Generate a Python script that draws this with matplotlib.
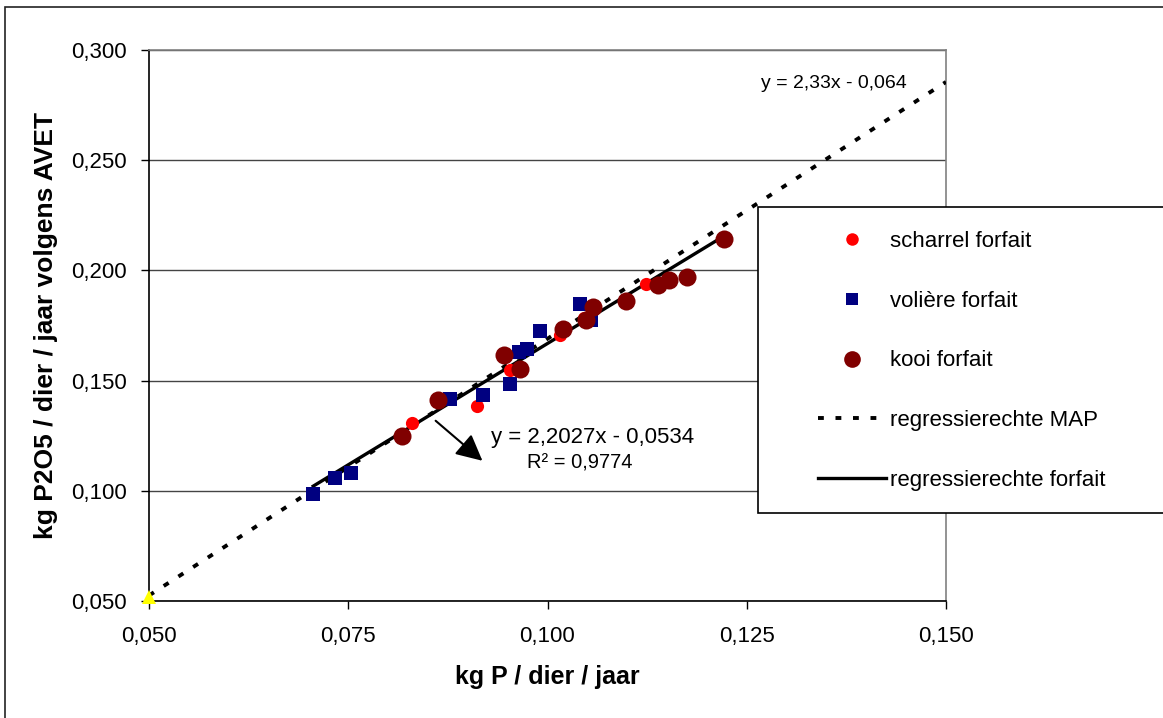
import matplotlib
matplotlib.use("Agg")
import matplotlib.pyplot as plt
from matplotlib.lines import Line2D
from matplotlib.patches import Rectangle
from matplotlib.ticker import FuncFormatter, MultipleLocator

plt.rcParams["font.family"] = ["Liberation Sans", "DejaVu Sans"]

# data
scharrel_x = [0.0830, 0.0912, 0.0953, 0.1016, 0.1046, 0.1123]
scharrel_y = [0.1308, 0.1386, 0.1549, 0.1709, 0.1782, 0.1940]

voliere_x = [0.0706, 0.0734, 0.0754, 0.0878, 0.0919, 0.0953, 0.0964, 0.0974, 0.0991, 0.1041, 0.1054]
voliere_y = [0.0986, 0.1060, 0.1083, 0.1417, 0.1436, 0.1485, 0.1629, 0.1644, 0.1724, 0.1849, 0.1776]

kooi_x = [0.0817, 0.0862, 0.0946, 0.0966, 0.1020, 0.1048, 0.1057, 0.1098, 0.1139, 0.1152, 0.1175, 0.1221]
kooi_y = [0.1250, 0.1412, 0.1617, 0.1553, 0.1735, 0.1773, 0.1836, 0.1860, 0.1936, 0.1958, 0.1970, 0.2141]

map_x = [0.050, 0.150]
map_y = [0.0525, 0.2855]

forfait_x = [0.0706, 0.1221]
forfait_y = [0.1021, 0.2155]

origin_x = [0.050]
origin_y = [0.052]

W, H = 1163, 718
fig = plt.figure(figsize=(W / 100, H / 100), dpi=100)
ax = fig.add_axes([149 / W, 1 - 601 / H, 797 / W, 551 / H])

# outer frame of the chart object
fig.patches.append(Rectangle((4.5 / W, -0.05), 1.1, 1.05 - 6.5 / H, transform=fig.transFigure,
                             fill=False, edgecolor="#222222", linewidth=1.2))

ax.plot(map_x, map_y, color="black", linewidth=2.8, linestyle=(0, (1.5, 3.0)), zorder=3)
ax.plot(forfait_x, forfait_y, color="black", linewidth=2.4, zorder=4)
ax.plot(scharrel_x, scharrel_y, "o", color="#FF0000", markersize=9.5, markeredgewidth=0, zorder=5)
ax.plot(voliere_x, voliere_y, "s", color="#000080", markersize=9.5, markeredgewidth=0, zorder=5)
ax.plot(kooi_x, kooi_y, "o", color="#800000", markersize=13, markeredgewidth=0, zorder=5)
ax.plot(origin_x, origin_y, "^", color="#FFFF00", markersize=10, markeredgewidth=0, zorder=6, clip_on=False)

ax.set_xlim(0.05, 0.15)
ax.set_ylim(0.05, 0.30)
ax.xaxis.set_major_locator(MultipleLocator(0.025))
ax.yaxis.set_major_locator(MultipleLocator(0.05))
fmt = FuncFormatter(lambda v, p: f"{v:.3f}".replace(".", ","))
ax.xaxis.set_major_formatter(fmt)
ax.yaxis.set_major_formatter(fmt)
ax.tick_params(direction="out", length=6, width=1, labelsize=16, color="black")
ax.tick_params(axis="y", pad=10)
ax.tick_params(axis="x", pad=12)

ax.grid(axis="y", color="#444444", linewidth=1)
ax.set_axisbelow(True)
for side in ["left", "bottom"]:
    ax.spines[side].set_color("black")
    ax.spines[side].set_linewidth(1.2)
for side in ["top", "right"]:
    ax.spines[side].set_color("#808080")
    ax.spines[side].set_linewidth(1.2)

ax.set_xlabel("kg P / dier / jaar", fontsize=18, fontweight="bold", va="center")
ax.set_ylabel("kg P2O5 / dier / jaar volgens AVET", fontsize=19, fontweight="bold", va="center")
ax.xaxis.set_label_coords((547 - 149) / 797, (601 - 677) / 551)
ax.yaxis.set_label_coords((46 - 149) / 797, 0.5)

ax.text(0.1268, 0.2846, "y = 2,33x - 0,064", fontsize=14, ha="left", va="center")
ax.text(0.1056, 0.1244, "y = 2,2027x - 0,0534", fontsize=16, ha="center", va="center")
ax.text(0.1041, 0.1125, "R² = 0,9774", fontsize=14.5, ha="center", va="center")
ax.annotate("", xy=(0.0921, 0.1128), xytext=(0.0857, 0.1326),
            arrowprops=dict(arrowstyle="-|>", color="black", lw=1.5, mutation_scale=40))

# legend box running off the right edge
fig.patches.append(Rectangle((758 / W, 1 - 513 / H), 1.0, 306 / H, transform=fig.transFigure,
                             fill=True, facecolor="white", edgecolor="black", linewidth=1.2, zorder=10))
handles = [
    Line2D([], [], linestyle="none", marker="o", color="#FF0000", markersize=9, markeredgewidth=0),
    Line2D([], [], linestyle="none", marker="s", color="#000080", markersize=9, markeredgewidth=0),
    Line2D([], [], linestyle="none", marker="o", color="#800000", markersize=12, markeredgewidth=0),
    Line2D([], [], color="black", linewidth=2.8, linestyle=(0, (1.5, 3.0))),
    Line2D([], [], color="black", linewidth=2.4),
]
labels = ["scharrel forfait", "volière forfait", "kooi forfait", "regressierechte MAP", "regressierechte forfait"]
leg = fig.legend(handles, labels, loc="upper left", bbox_to_anchor=(818 / W, 1 - 231 / H),
                 bbox_transform=fig.transFigure, frameon=False, fontsize=16, handlelength=3.05,
                 handletextpad=0.18, labelspacing=1.74, borderpad=0, borderaxespad=0)
leg.set_zorder(11)

fig.savefig("out.png", dpi=100)
